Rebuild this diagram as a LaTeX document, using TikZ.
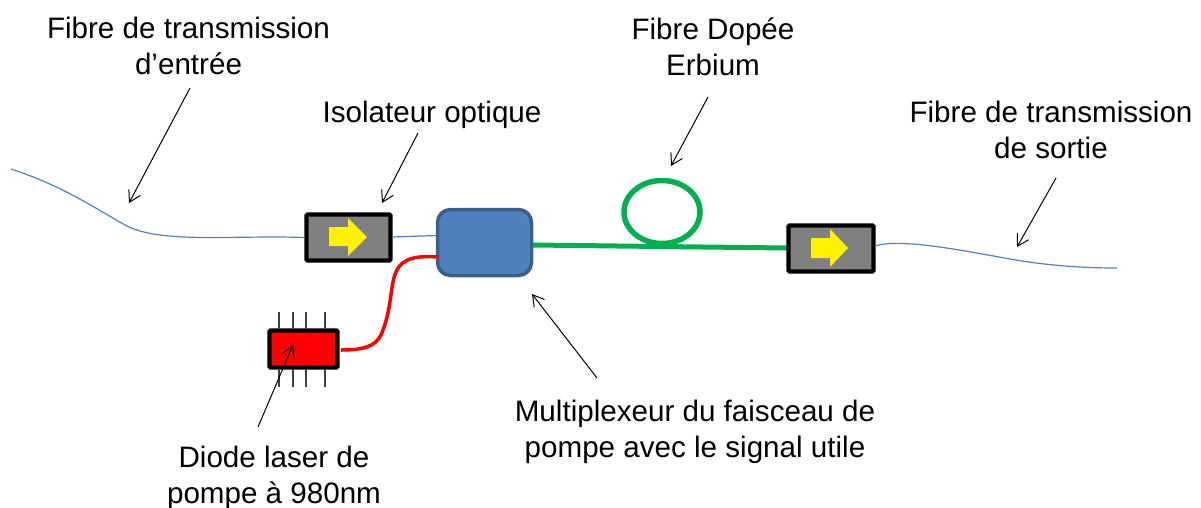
\documentclass[tikz,border=0pt]{standalone}
\usepackage{fontspec}
\setmainfont{Liberation Sans}
\usetikzlibrary{arrows.meta,shapes.geometric}
\definecolor{fibreblue}{HTML}{4F81BD}
\definecolor{muxedge}{HTML}{3A5F8B}
\definecolor{dopedgreen}{HTML}{00B050}
\tikzset{
  x=1pt,y=-1pt,
  lab/.style={align=center,inner sep=0pt,font=\fontsize{29.6}{36}\selectfont},
  pointer/.style={draw=black,line width=1pt,-{Straight Barb[length=11pt,width=13pt,line width=1pt]}},
  isobox/.style={draw=black,fill=black!50,line width=4.2pt,rounded corners=1pt,minimum width=84pt,minimum height=46pt,inner sep=0pt},
  isoarrow/.style={fill=yellow,draw=none},
  fibre/.style={draw=fibreblue,line width=1.2pt},
  pin/.style={draw=black!75,line width=1.2pt},
}
\begin{document}
\begin{tikzpicture}
\useasboundingbox (0,0) rectangle (1201,507);
\coordinate (inS) at (11,169);
\coordinate (outE) at (1117,268);
\coordinate (iso2out) at (875,246);
\coordinate (iso1out) at (392,237);
\coordinate (muxin) at (437,235.5);
\coordinate (greenS) at (533,245);
\coordinate (greenE) at (788,248);
% green fibre and loop, behind the boxes
\draw[dopedgreen,line width=5pt] (greenS) -- (greenE);
\node[draw=dopedgreen,line width=5.5pt,ellipse,minimum width=76pt,minimum height=63pt,inner sep=0pt] (loop) at (662,212) {};
\node[draw=muxedge,fill=fibreblue,line width=3.5pt,rounded corners=13pt,minimum width=94pt,minimum height=66pt,inner sep=0pt] (mux) at (484.5,242.5) {};
\node[isobox] (iso1) at (348.5,237.5) {};
\node[isobox,minimum width=85pt] (iso2) at (831,248.5) {};
\node[draw=black,fill=red,line width=4.2pt,rounded corners=1pt,minimum width=68pt,minimum height=37pt,inner sep=0pt] (diode) at (303.5,349) {};
% input / output fibre
\draw[fibre] (inS) .. controls (60,185) and (90,205) .. (125,225) .. controls (160,244) and (230,235) .. (iso1.west);
\draw[fibre] (iso1out) -- (muxin);
\draw[fibre] (iso2out) .. controls (900,238) and (960,250) .. (1010,259) .. controls (1050,266) and (1085,268) .. (outE);
% red fibre
\draw[red,line width=3.5pt] (341,350) .. controls (362,350) and (375,347) .. (381,335) .. controls (392,310) and (390,285) .. (396,272) .. controls (403,256) and (420,256) .. (439,257);
% pins
\foreach \px/\n in {279/a,293/b,306/c,325/d}{
  \coordinate (t\n) at (\px,312);
  \coordinate (b\n) at (\px,387);
  \draw[pin] (t\n) -- (\px,329);
  \draw[pin] (\px,369) -- (b\n);
}
% isolator arrows
\fill[isoarrow] (329,227) -- (348,227) -- (348,218) -- (367,237) -- (348,256) -- (348,246) -- (329,246) -- cycle;
\fill[isoarrow] (811,238) -- (830,238) -- (830,229) -- (848,248) -- (830,267) -- (830,258) -- (811,258) -- cycle;
% labels
\node[lab] (l1) at (188.5,46) {Fibre de transmission\\d’entrée};
\node[lab] (l2) at (432,115) {Isolateur optique};
\node[lab] (l3) at (713,46.5) {Fibre Dopée\\Erbium};
\node[lab] (l4) at (1051,130) {Fibre de transmission\\de sortie};
\node[lab] (l5) at (695,432) {Multiplexeur du faisceau de\\pompe avec le signal utile};
\node[lab] (l6) at (274,477.5) {Diode laser de\\pompe à 980nm};
% pointers
\coordinate (p1s) at (190,88); \coordinate (p1e) at (129,203);
\coordinate (p2s) at (418,133); \coordinate (p2e) at (382,203);
\coordinate (p3s) at (708,97); \coordinate (p3e) at (671,166);
\coordinate (p4s) at (1056,178); \coordinate (p4e) at (1017,247);
\coordinate (p5s) at (597,378); \coordinate (p5e) at (532,294);
\coordinate (p6s) at (258,427); \coordinate (p6e) at (293,345);
\draw[pointer] (p1s) -- (p1e);
\draw[pointer] (p2s) -- (p2e);
\draw[pointer] (p3s) -- (p3e);
\draw[pointer] (p4s) -- (p4e);
\draw[pointer] (p5s) -- (p5e);
\draw[pointer] (p6s) -- (p6e);
\end{tikzpicture}
\end{document}
